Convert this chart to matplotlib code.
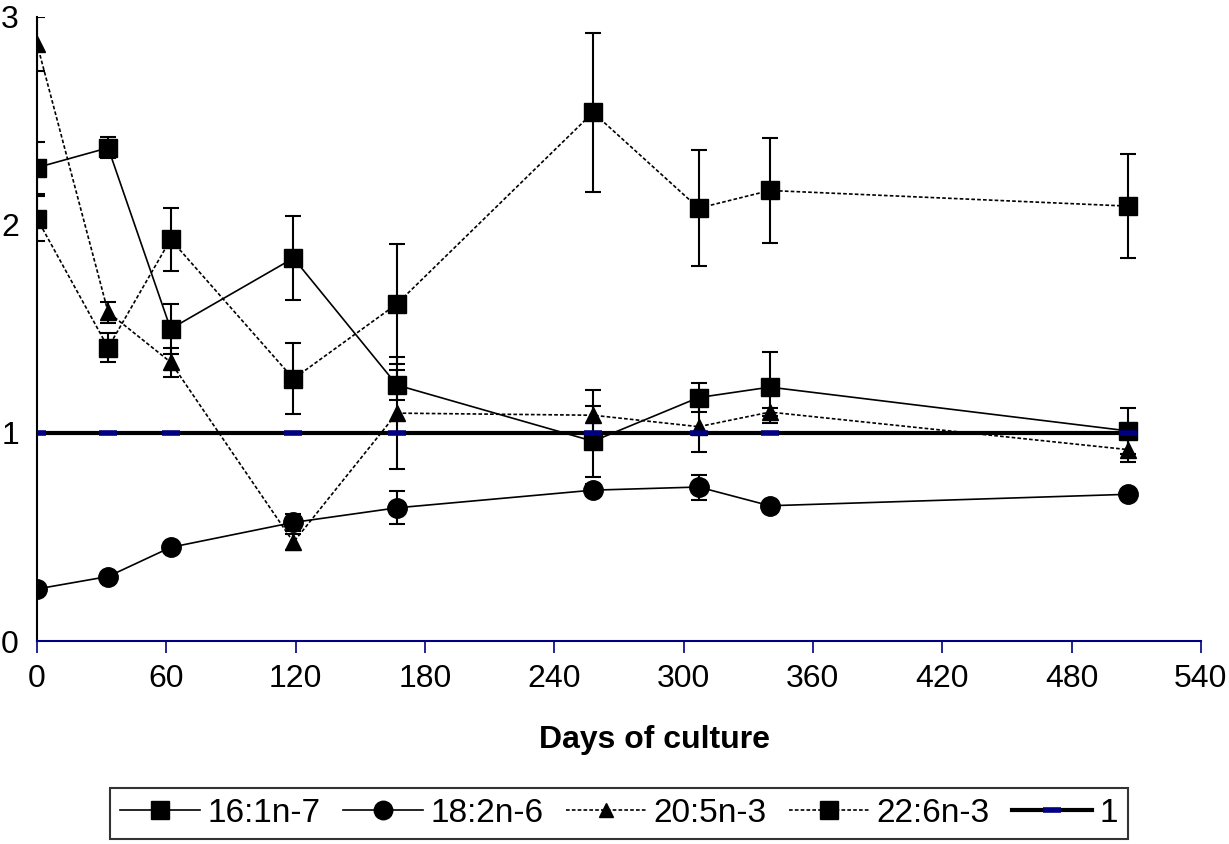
import matplotlib
matplotlib.use("Agg")
import matplotlib.pyplot as plt

plt.rcParams['font.family'] = ['Liberation Sans', 'DejaVu Sans']

# data
days = [0, 33, 62, 119, 167, 258, 307, 340, 506]

fa16 = [2.275, 2.37, 1.50, 1.84, 1.23, 0.96, 1.17, 1.22, 1.01]
fa16_err = [0.125, 0.05, 0.12, 0.20, 0.07, 0.17, 0.07, 0.17, 0.11]

fa18 = [0.25, 0.31, 0.45, 0.57, 0.64, 0.725, 0.74, 0.65, 0.705]
fa18_err = [0.0, 0.0, 0.02, 0.04, 0.08, 0.03, 0.06, 0.0, 0.0]

fa20 = [2.87, 1.58, 1.34, 0.475, 1.095, 1.085, 1.03, 1.10, 0.92]
fa20_err = [0.13, 0.05, 0.07, 0.04, 0.27, 0.12, 0.12, 0.02, 0.06]

fa22 = [2.03, 1.41, 1.93, 1.26, 1.62, 2.54, 2.08, 2.165, 2.09]
fa22_err = [0.11, 0.07, 0.15, 0.17, 0.29, 0.38, 0.28, 0.25, 0.25]

ref_line = [1] * len(days)

labels = ['16:1n-7', '18:2n-6', '20:5n-3', '22:6n-3', '1']

fig = plt.figure(figsize=(12.29, 8.44), dpi=100)
ax = fig.add_axes([0.0301, 0.2405, 0.947, 0.7397])

dash = (0, (2.2, 1.3))
series = [
    (fa16, fa16_err, 's', 13, '-'),
    (fa18, fa18_err, 'o', 14, '-'),
    (fa20, fa20_err, '^', 11, dash),
    (fa22, fa22_err, 's', 13, dash),
]

handles = []
for vals, err, mk, ms, ls in series:
    ax.errorbar(days, vals, yerr=err, fmt='none', ecolor='black',
                elinewidth=1.5, capsize=5.5, capthick=1.5, zorder=2)
    h, = ax.plot(days, vals, color='black', lw=1.2, ls=ls, marker=mk,
                 ms=ms, mfc='black', mec='black', zorder=3)
    handles.append(h)

# reference line at 1 with navy markers
h1, = ax.plot(days, ref_line, color='black', lw=3, marker='_', ms=13,
              mew=4, mec='#000080', zorder=4)
handles.append(h1)

ax.set_xlim(0, 540)
ax.set_ylim(0, 3)
ax.set_xticks(range(0, 541, 60))
ax.set_yticks([0, 1, 2, 3])

ax.spines['top'].set_visible(False)
ax.spines['right'].set_visible(False)
ax.spines['left'].set_linewidth(1.5)
ax.spines['left'].set_color('black')
ax.spines['bottom'].set_linewidth(1.5)
ax.spines['bottom'].set_color('#000080')
ax.spines['left'].set_zorder(1)

ax.tick_params(axis='y', length=0, pad=13, labelsize=23)
ax.tick_params(axis='x', direction='out', length=8.5, width=1.2,
               color='#000080', pad=8, labelsize=23)

ax.set_xlabel('Days of culture', fontsize=23, fontweight='bold')
ax.xaxis.set_label_coords((655 - 37) / 1164, -0.135)

for lab in ax.get_xticklabels() + ax.get_yticklabels():
    lab.set_clip_on(False)

leg = fig.legend(handles, labels, loc='center', bbox_to_anchor=(0.5037, 0.036),
                 ncol=5, frameon=True, fancybox=False, edgecolor='black',
                 fontsize=24, handlelength=2.4, handletextpad=0.24,
                 columnspacing=0.66, borderpad=0.3, markerscale=0.95)
leg.get_frame().set_linewidth(1.5)

fig.savefig('out.png', dpi=100)
